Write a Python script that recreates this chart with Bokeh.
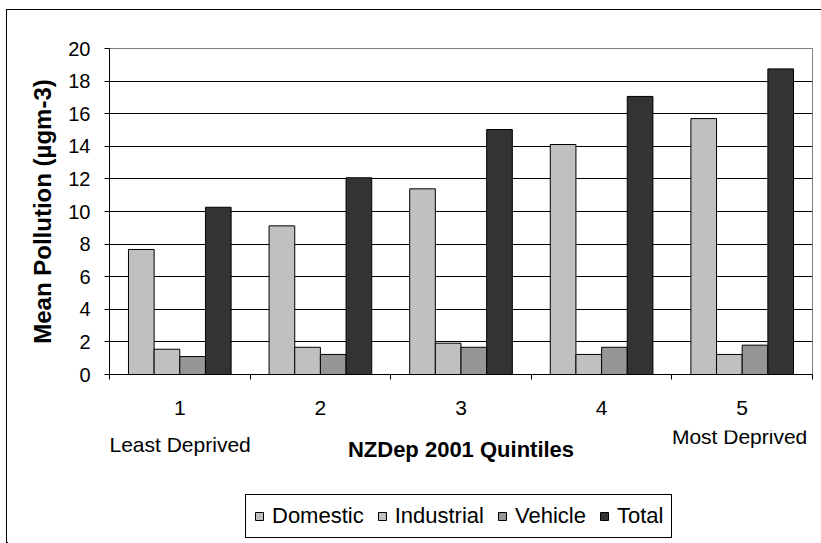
from bokeh.plotting import figure
from bokeh.layouts import column
from bokeh.models import FixedTicker, Legend, LegendItem, ColumnDataSource, Range1d, Label
from bokeh.transform import dodge
from bokeh.embed import file_html
from bokeh.resources import INLINE

# ---- data ----
quintiles = [1, 2, 3, 4, 5]
quintile_labels = ["1", "2", "3", "4", "5"]
end_labels = ["Least Deprived", "Most Deprived"]
x_title = "NZDep 2001 Quintiles"
y_title = "Mean Pollution (µgm-3)"
series_names = ["Domestic", "Industrial", "Vehicle", "Total"]
domestic = [7.67, 9.12, 11.39, 14.11, 15.70]
industrial = [1.55, 1.67, 1.92, 1.23, 1.23]
vehicle = [1.10, 1.23, 1.67, 1.67, 1.80]
total = [10.26, 12.07, 15.03, 17.06, 18.75]
y_ticks = [0, 2, 4, 6, 8, 10, 12, 14, 16, 18, 20]

colors = ["#C0C0C0", "#C0C0C0", "#969696", "#333333"]
FONT = "Liberation Sans"

source = ColumnDataSource(dict(q=quintiles, Domestic=domestic, Industrial=industrial,
                               Vehicle=vehicle, Total=total))

# ---- main chart ----
LEFT, RIGHT, TOP, FRAME_W, FRAME_H = 102, 9, 38, 703, 326
W = LEFT + FRAME_W + RIGHT
H1 = 420
p = figure(width=W, height=H1, output_backend="svg", toolbar_location=None,
           x_range=Range1d(0.5, 5.5), y_range=Range1d(0, 20),
           min_border_left=LEFT, min_border_right=RIGHT, min_border_top=TOP,
           min_border_bottom=H1 - TOP - FRAME_H)
p.frame_align = False
p.background_fill_color = "white"
p.border_fill_color = "white"
p.outline_line_color = "#808080"
p.outline_line_width = 1

bar_w = 0.1825
offsets = [-1.5 * bar_w, -0.5 * bar_w, 0.5 * bar_w, 1.5 * bar_w]
for name, off, col in zip(series_names, offsets, colors):
    p.vbar(x=dodge("q", off, range=p.x_range), top=name, width=bar_w, source=source,
           fill_color=col, line_color="black", line_width=1)

# y axis
p.yaxis.ticker = FixedTicker(ticks=y_ticks)
p.yaxis.axis_label = y_title
p.yaxis.axis_label_text_font = FONT
p.yaxis.axis_label_text_font_style = "bold"
p.yaxis.axis_label_text_font_size = "24px"
p.yaxis.axis_label_text_color = "black"
p.yaxis.axis_label_standoff = 9
p.yaxis.major_label_text_font = FONT
p.yaxis.major_label_text_font_size = "20px"
p.yaxis.major_label_text_color = "black"
p.yaxis.major_label_standoff = 14
p.yaxis.major_tick_out = 5
p.yaxis.major_tick_in = 0
p.yaxis.minor_tick_out = 0
p.yaxis.minor_tick_in = 0
p.yaxis.axis_line_color = "black"
p.yaxis.major_tick_line_color = "black"

# x axis
p.xaxis.ticker = FixedTicker(ticks=quintiles, minor_ticks=[0.5, 1.5, 2.5, 3.5, 4.5, 5.5])
p.xaxis.major_label_overrides = {q: l for q, l in zip(quintiles, quintile_labels)}
p.xaxis.major_tick_out = 0
p.xaxis.major_tick_in = 0
p.xaxis.minor_tick_out = 5
p.xaxis.minor_tick_in = 0
p.xaxis.minor_tick_line_color = "black"
p.xaxis.axis_line_color = "black"
p.xaxis.major_label_text_font = FONT
p.xaxis.major_label_text_font_size = "21px"
p.xaxis.major_label_text_color = "black"
p.xaxis.major_label_standoff = 21

# grid
p.xgrid.visible = False
p.ygrid.ticker = FixedTicker(ticks=y_ticks[1:-1])
p.ygrid.grid_line_color = "black"
p.ygrid.grid_line_width = 1

# ---- lower strip: end labels, axis title, legend ----
H2 = 113
px_per_unit = FRAME_W / 5.0
p2 = figure(width=W, height=H2, output_backend="svg", toolbar_location=None,
            x_range=Range1d(0.5 - LEFT / px_per_unit, 0.5 + (FRAME_W + RIGHT) / px_per_unit),
            y_range=Range1d(0, H2), x_axis_type=None, y_axis_type=None,
            min_border=0, min_border_left=0, min_border_right=0,
            min_border_top=0, min_border_bottom=0)
p2.frame_align = False
p2.outline_line_color = None
p2.background_fill_color = "white"
p2.border_fill_color = "white"
p2.xgrid.visible = False
p2.ygrid.visible = False

p2.add_layout(Label(x=quintiles[0] - 0.5, y=99, y_units="screen", text=end_labels[0],
                    text_align="left", text_baseline="alphabetic", text_font=FONT,
                    text_font_size="21px", text_color="black"))
p2.add_layout(Label(x=quintiles[-1] - 0.5, y=107, y_units="screen", text=end_labels[1],
                    text_align="left", text_baseline="alphabetic", text_font=FONT,
                    text_font_size="21px", text_color="black"))
p2.add_layout(Label(x=3.0, y=94, y_units="screen", text=x_title, text_align="center",
                    text_baseline="alphabetic", text_font=FONT, text_font_size="22px",
                    text_font_style="bold", text_color="black"))

# legend swatch proxies (one hidden row each, outside the visible x range)
legend_renderers = []
for col in colors:
    legend_renderers.append(p2.vbar(x=[-100], top=[1], width=bar_w, fill_color=col,
                                    line_color="black", line_width=1))
legend = Legend(items=[LegendItem(label=n, renderers=[r]) for n, r in zip(series_names, legend_renderers)],
                orientation="horizontal", location=(238, 5),
                border_line_color="black", border_line_width=1, border_line_alpha=1,
                background_fill_color="white", background_fill_alpha=1,
                glyph_width=10, glyph_height=10, label_standoff=8, spacing=13, padding=8,
                margin=0, label_text_font=FONT, label_text_font_size="22px",
                label_text_color="black")
p2.add_layout(legend)

layout = column(p, p2, spacing=0,
                styles={"margin-left": "6px", "margin-top": "9px",
                        "border-left": "1px solid black", "border-top": "1px solid black"})

open("out.html", "w").write(file_html(layout, INLINE))
